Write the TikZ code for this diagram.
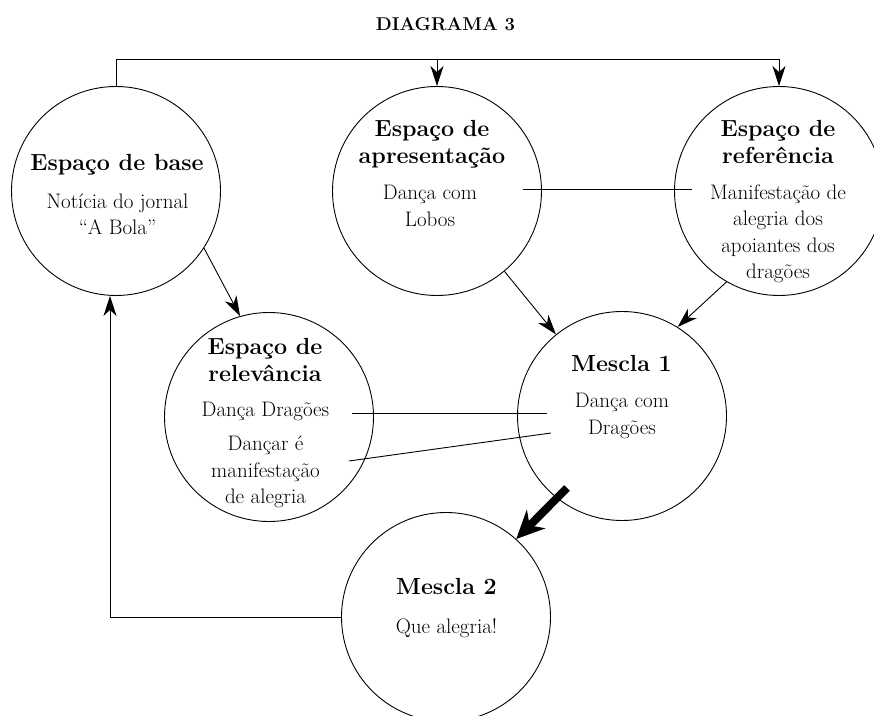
\documentclass[tikz,border=0pt]{standalone}
\usepackage{fontspec}
\usetikzlibrary{arrows.meta}
\tikzset{
  circ/.style={circle,draw,minimum size=209pt,inner sep=0pt},
  title/.style={inner sep=0pt,font=\fontsize{18.5}{22}\selectfont\bfseries},
  head/.style={align=center,inner sep=0pt,font=\fontsize{23.3}{26.5}\selectfont\bfseries},
  body/.style={align=center,inner sep=0pt,font=\fontsize{21}{26.5}\selectfont},
  arr/.style={-{Stealth[length=20pt,width=13pt,inset=6pt]}},
  bigarr/.style={-{Stealth[length=28pt,width=26pt,inset=9pt]},line width=8pt}
}
\begin{document}
\begin{tikzpicture}[x=1pt,y=1pt,line width=0.9pt]
\useasboundingbox (0,0) rectangle (874,715);
\node[title](t) at (445.5,691){DIAGRAMA 3};
\node[circ](base) at (116,524){};
\node[circ](apres) at (437,524){};
\node[circ](ref) at (779,524){};
\node[circ](relev) at (269,298){};
\node[circ](m1) at (622,299){};
\node[circ](m2) at (446,98){};
\node[head](baseh) at (117,550){Espaço de base};
\node[body](baseb) at (117.5,500.5){Notícia do jornal\\“A Bola”};
\node[head](apresh) at (432,570.5){Espaço de\\apresentação};
\node[body](apresb) at (430,509){Dança com\\Lobos};
\node[head](refh) at (778,573){Espaço de\\referência};
\node[body](refb) at (778,481){Manifestação de\\alegria dos\\apoiantes dos\\dragões};
\node[head](relevh) at (265,355){Espaço de\\relevância};
\node[body](relevb1) at (265.5,304){Dança Dragões};
\node[body](relevb2) at (265.5,243){Dançar é\\manifestação\\de alegria};
\node[head](m1h) at (621.5,352){Mescla 1};
\node[body](m1b) at (622,299){Dança com\\Dragões};
\node[head](m2h) at (446.5,128.5){Mescla 2};
\node[body](m2b) at (446.5,87){Que alegria!};
\coordinate(top) at (0,656);
\coordinate(m1tail) at (567,227);
\path[arr,draw](base.north)--(base.north|-top)-|(ref.north);
\path[arr,draw](apres.north|-top)--(apres.north);
\path[arr,draw](base.-33)--(relev.106);
\path[arr,draw](apres.-50)--(m1.129);
\path[arr,draw](ref.-120)--(m1.58);
\path[arr,draw](m2.west)-|([xshift=-6pt]base.south);
\path[bigarr,draw](m1tail)--(m2.48);
\path[-,draw]([shift={(86,2)}]apres.center)--([shift={(-87,2)}]ref.center);
\path[-,draw]([shift={(83,4)}]relev.center)--([shift={(-75,3)}]m1.center);
\path[-,draw]([shift={(80,-44)}]relev.center)--([shift={(-71,-17)}]m1.center);
\end{tikzpicture}
\end{document}
